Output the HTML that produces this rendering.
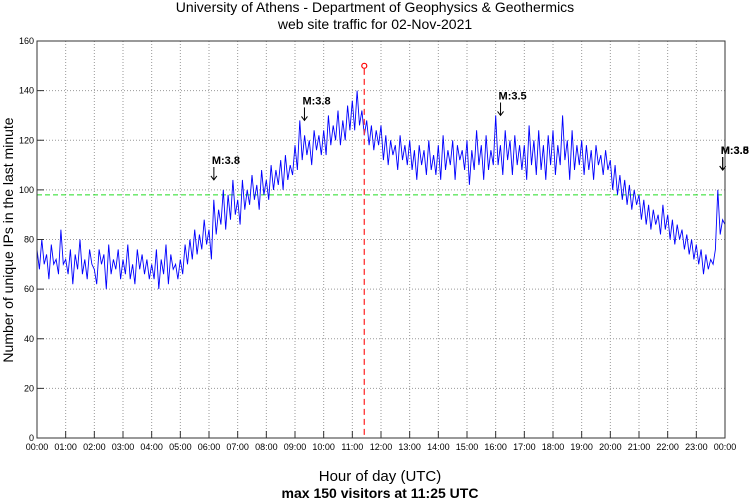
<!DOCTYPE html>
<html><head><meta charset="utf-8"><style>
html,body{margin:0;padding:0;background:#fff;}
svg{display:block;font-family:"Liberation Sans",sans-serif;}
</style></head><body>
<svg id="chart" width="750" height="502" viewBox="0 0 750 502" xmlns="http://www.w3.org/2000/svg">
<text x="375" y="12" font-size="14" text-anchor="middle">University of Athens - Department of Geophysics &amp; Geothermics</text>
<text x="375" y="29" font-size="14" text-anchor="middle">web site traffic for 02-Nov-2021</text>
<text transform="translate(13,240) rotate(-90)" font-size="14" text-anchor="middle">Number of unique IPs in the last minute</text>
<text x="380" y="481" font-size="15" text-anchor="middle">Hour of day (UTC)</text>
<text x="380" y="498" font-size="14" font-weight="bold" text-anchor="middle">max 150 visitors at 11:25 UTC</text>
<g id="grid"></g><g id="series"></g><g id="ann"></g><g id="axes"></g>
</svg>
<script>
const yTicks=[0,20,40,60,80,100,120,140,160];
const xTickLabels=["00:00","01:00","02:00","03:00","04:00","05:00","06:00","07:00","08:00","09:00","10:00","11:00","12:00","13:00","14:00","15:00","16:00","17:00","18:00","19:00","20:00","21:00","22:00","23:00","00:00"];
const visitors=[
76,68,80,70,74,64,78,70,72,66,84,70,
72,66,76,62,74,68,80,66,72,64,76,70,
68,62,76,70,74,60,78,66,72,68,76,64,
72,66,78,64,70,62,76,68,74,66,72,64,
70,64,76,60,72,66,78,62,74,68,70,64,
72,66,78,70,80,72,84,74,82,76,88,78,
84,72,96,82,92,86,100,84,98,88,104,90,
96,86,104,92,100,94,106,96,102,92,108,98,
104,96,110,100,108,102,112,100,114,104,110,106,
118,108,128,112,122,114,120,110,124,116,122,114,
124,114,130,118,126,120,132,118,128,120,134,124,
136,124,140,126,132,122,128,118,126,116,124,118,
126,112,122,110,120,114,118,108,122,112,118,110,
120,108,116,104,118,110,116,106,120,108,114,106,
118,104,122,108,116,110,120,104,118,112,116,108,
120,102,116,108,124,110,118,104,122,108,116,110,
130,110,118,106,124,112,120,106,122,110,118,108,
118,104,126,110,120,106,124,108,118,104,122,110,
124,106,118,110,130,112,120,104,124,108,118,110,
120,106,118,108,116,104,118,110,114,106,116,108,
112,100,110,98,106,96,104,94,102,92,100,94,
98,88,96,86,94,84,92,86,90,82,94,84,
90,80,88,78,86,80,84,76,82,74,80,72,
78,70,76,66,74,68,72,70,76,100,82,88,
86];
const stepMinutes=5;
const maxValue=[150];
const maxHour=[11.4167];
const averageLine=[98];
const quakeLabels=["M:3.8","M:3.8","M:3.5","M:3.8","M:3.5"];
const quakeHours=[6.17,9.33,16.17,23.92,23.92];
const quakeLevels=[104,128,130,108,108];

const L=37,R=725,T=41,B=438;
const NS="http://www.w3.org/2000/svg";
const xs=h=>L+(R-L)*h/24, ys=v=>B-(B-T)*v/160;
function mk(tag,attrs,parent){const e=document.createElementNS(NS,tag);for(const k in attrs)e.setAttribute(k,attrs[k]);document.getElementById(parent).appendChild(e);return e;}
yTicks.forEach(v=>{
 if(v>0&&v<160){const g=mk('line',{x1:L,x2:R,y1:ys(v),y2:ys(v),stroke:'#999','stroke-dasharray':'1,2','stroke-width':1},'grid');
 
 }
 const t=mk('line',{x1:L,x2:L+7,y1:ys(v),y2:ys(v),stroke:'#333'},'axes');
 
 
 const l=mk('text',{x:L-3,y:ys(v)+3,'font-size':9,'text-anchor':'end'},'axes');l.textContent=v;
 
 
});
xTickLabels.forEach((s,i)=>{
 const x=xs(i);
 if(i>0&&i<24){const g=mk('line',{x1:x,x2:x,y1:T,y2:B,stroke:'#999','stroke-dasharray':'1,2'},'grid');
 
 }
 const t=mk('line',{x1:x,x2:x,y1:B,y2:B-7,stroke:'#333'},'axes');
 
 
 const l=mk('text',{x:x,y:B+12,'font-size':9,'text-anchor':'middle'},'axes');l.textContent=s;
 
 
});
const fr=mk('rect',{x:L,y:T,width:R-L,height:B-T,fill:'none',stroke:'#333'},'axes');


const avg=mk('line',{x1:L,x2:R,y1:ys(averageLine[0]),y2:ys(averageLine[0]),stroke:'#22dd22','stroke-dasharray':'5,3'},'series');


const pts=visitors.map((v,i)=>xs(i*stepMinutes/60).toFixed(1)+','+ys(v).toFixed(1)).join(' ');
const pl=mk('polyline',{points:pts,fill:'none',stroke:'#0000ff','stroke-width':0.9},'series');


const mx=xs(maxHour[0]), my=ys(maxValue[0]);
const ml=mk('line',{x1:mx,x2:mx,y1:my+3,y2:B,stroke:'#ff3333','stroke-dasharray':'6,4','stroke-width':1.3},'series');


const mc=mk('circle',{cx:mx,cy:my,r:2.5,fill:'none',stroke:'#ff0000','stroke-width':1.2},'series');


quakeLabels.forEach((s,i)=>{
 const x=xs(quakeHours[i]),y=ys(quakeLevels[i]);
 const a=mk('path',{d:`M${x},${y-13}V${y} M${x-3},${y-4}L${x},${y}L${x+3},${y-4}`,fill:'none',stroke:'#000','stroke-width':1},'ann');
 
 
 const t=mk('text',{x:x-2,y:y-16,'font-size':11,'font-weight':'bold'},'ann');t.textContent=s;
 
 
});
</script>
</body></html>
